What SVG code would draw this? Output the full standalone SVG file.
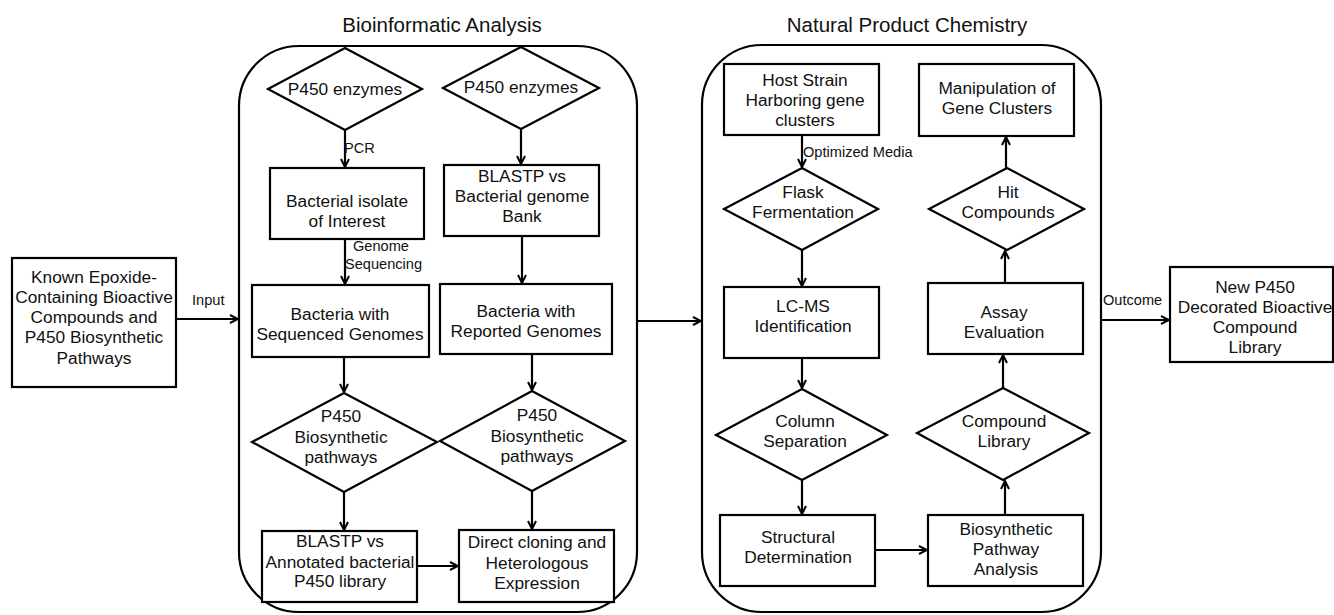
<svg xmlns="http://www.w3.org/2000/svg" width="1334" height="615" viewBox="0 0 1334 615">
<defs>
<marker id="ah" viewBox="0 0 10 10" refX="9" refY="5" markerWidth="10" markerHeight="10" markerUnits="userSpaceOnUse" orient="auto">
<path d="M1,1 L9,5 L1,9" fill="none" stroke="#000" stroke-width="2"/>
</marker>
<style>
.s{fill:#fff;stroke:#000;stroke-width:2.2}
.g{fill:none;stroke:#000;stroke-width:2.2}
.t{font-family:"Liberation Sans",Arial,sans-serif;font-size:17.3px;fill:#111;text-anchor:middle}
.l{font-family:"Liberation Sans",Arial,sans-serif;font-size:14.6px;fill:#111}
.h{font-family:"Liberation Sans",Arial,sans-serif;font-size:20.5px;fill:#111;text-anchor:middle}
.c{fill:none;stroke:#000;stroke-width:2.2;marker-end:url(#ah)}
</style>
</defs>
<rect width="1334" height="615" fill="#fff"/>

<g id="groups">
<rect x="239" y="46" width="398" height="566" rx="60" ry="60" class="g"/>
<text x="442" y="32" class="h">Bioinformatic Analysis</text>
<rect x="702" y="45" width="399" height="567" rx="60" ry="60" class="g"/>
<text x="907" y="32" class="h">Natural Product Chemistry</text>
</g>

<g id="connectors">
<line x1="176" y1="319" x2="238" y2="319" class="c"/>
<text x="192" y="305" class="l">Input</text>
<line x1="345" y1="130" x2="345" y2="167" class="c"/>
<text x="344" y="153" class="l">PCR</text>
<line x1="521" y1="129" x2="521" y2="164" class="c"/>
<line x1="345" y1="239" x2="345" y2="284" class="c"/>
<text x="353" y="251" class="l">Genome</text>
<text x="345" y="269" class="l">Sequencing</text>
<line x1="522" y1="236" x2="522" y2="283" class="c"/>
<line x1="344" y1="357" x2="344" y2="392" class="c"/>
<line x1="532" y1="354" x2="532" y2="390" class="c"/>
<line x1="344" y1="492" x2="344" y2="530" class="c"/>
<line x1="532" y1="491" x2="532" y2="529" class="c"/>
<line x1="417" y1="566" x2="458" y2="566" class="c"/>
<line x1="637" y1="321" x2="701" y2="321" class="c"/>
<line x1="802" y1="135" x2="802" y2="167" class="c"/>
<text x="803" y="157" class="l">Optimized Media</text>
<line x1="802" y1="250" x2="802" y2="286" class="c"/>
<line x1="802" y1="358" x2="802" y2="388" class="c"/>
<line x1="802" y1="480" x2="802" y2="514" class="c"/>
<line x1="875" y1="550" x2="927" y2="550" class="c"/>
<line x1="1005" y1="515" x2="1005" y2="481" class="c"/>
<line x1="1003" y1="388" x2="1003" y2="355" class="c"/>
<line x1="1005" y1="283" x2="1005" y2="251" class="c"/>
<line x1="1006" y1="168" x2="1006" y2="137" class="c"/>
<line x1="1101" y1="320" x2="1169" y2="320" class="c"/>
<text x="1103" y="305" class="l">Outcome</text>
</g>

<g id="n_known">
<rect x="12" y="258" width="164" height="129" class="s"/>
<text class="t" x="94" y="283">Known Epoxide-</text>
<text class="t" x="94" y="303">Containing Bioactive</text>
<text class="t" x="94" y="323">Compounds and</text>
<text class="t" x="94" y="343">P450 Biosynthetic</text>
<text class="t" x="94" y="364">Pathways</text>
</g>

<g id="n_p450a">
<polygon points="345,48 422,89 345,130 268,89" class="s"/>
<text class="t" x="345" y="95">P450 enzymes</text>
</g>
<g id="n_p450b">
<polygon points="521,47 599,88 521,129 443,88" class="s"/>
<text class="t" x="521" y="93">P450 enzymes</text>
</g>
<g id="n_isolate">
<rect x="270" y="168" width="154" height="71" class="s"/>
<text class="t" x="347" y="207">Bacterial isolate</text>
<text class="t" x="347" y="227">of Interest</text>
</g>
<g id="n_blastp1">
<rect x="444" y="165" width="155" height="71" class="s"/>
<text class="t" x="522" y="182">BLASTP vs</text>
<text class="t" x="522" y="202">Bacterial genome</text>
<text class="t" x="522" y="222">Bank</text>
</g>
<g id="n_seq">
<rect x="252" y="285" width="177" height="72" class="s"/>
<text class="t" x="340" y="320">Bacteria with</text>
<text class="t" x="340" y="340">Sequenced Genomes</text>
</g>
<g id="n_rep">
<rect x="440" y="284" width="172" height="70" class="s"/>
<text class="t" x="526" y="317">Bacteria with</text>
<text class="t" x="526" y="337">Reported Genomes</text>
</g>
<g id="n_pathA">
<polygon points="344,393 437,442 344,492 252,442" class="s"/>
<text class="t" x="341" y="422">P450</text>
<text class="t" x="341" y="443">Biosynthetic</text>
<text class="t" x="341" y="463">pathways</text>
</g>
<g id="n_pathB">
<polygon points="532,391 625,441 532,491 440,441" class="s"/>
<text class="t" x="537" y="421">P450</text>
<text class="t" x="537" y="442">Biosynthetic</text>
<text class="t" x="537" y="462">pathways</text>
</g>
<g id="n_blastp2">
<rect x="262" y="531" width="155" height="71" class="s"/>
<text class="t" x="340" y="547">BLASTP vs</text>
<text class="t" x="340" y="568">Annotated bacterial</text>
<text class="t" x="340" y="587">P450 library</text>
</g>
<g id="n_direct">
<rect x="459" y="530" width="155" height="72" class="s"/>
<text class="t" x="537" y="548">Direct cloning and</text>
<text class="t" x="537" y="569">Heterologous</text>
<text class="t" x="537" y="589">Expression</text>
</g>

<g id="n_host">
<rect x="724" y="64" width="155" height="71" class="s"/>
<text class="t" x="805" y="86">Host Strain</text>
<text class="t" x="805" y="106">Harboring gene</text>
<text class="t" x="805" y="126">clusters</text>
</g>
<g id="n_flask">
<polygon points="802,168 878,209 802,250 724,209" class="s"/>
<text class="t" x="803" y="198">Flask</text>
<text class="t" x="803" y="218">Fermentation</text>
</g>
<g id="n_lcms">
<rect x="724" y="287" width="155" height="71" class="s"/>
<text class="t" x="803" y="312">LC-MS</text>
<text class="t" x="803" y="332">Identification</text>
</g>
<g id="n_column">
<polygon points="802,389 887,435 802,480 716,435" class="s"/>
<text class="t" x="805" y="427">Column</text>
<text class="t" x="805" y="447">Separation</text>
</g>
<g id="n_struct">
<rect x="720" y="515" width="155" height="71" class="s"/>
<text class="t" x="798" y="543">Structural</text>
<text class="t" x="798" y="563">Determination</text>
</g>
<g id="n_bpa">
<rect x="928" y="515" width="155" height="71" class="s"/>
<text class="t" x="1006" y="535">Biosynthetic</text>
<text class="t" x="1006" y="555">Pathway</text>
<text class="t" x="1006" y="575">Analysis</text>
</g>
<g id="n_complib">
<polygon points="1003,388 1089,433 1003,480 917,433" class="s"/>
<text class="t" x="1004" y="427">Compound</text>
<text class="t" x="1004" y="447">Library</text>
</g>
<g id="n_assay">
<rect x="928" y="283" width="155" height="71" class="s"/>
<text class="t" x="1004" y="318">Assay</text>
<text class="t" x="1004" y="338">Evaluation</text>
</g>
<g id="n_hit">
<polygon points="1007,168 1084,209 1007,250 929,209" class="s"/>
<text class="t" x="1008" y="198">Hit</text>
<text class="t" x="1008" y="218">Compounds</text>
</g>
<g id="n_manip">
<rect x="919" y="64" width="155" height="72" class="s"/>
<text class="t" x="997" y="94">Manipulation of</text>
<text class="t" x="997" y="114">Gene Clusters</text>
</g>

<g id="n_new">
<rect x="1170" y="267" width="163" height="95" class="s"/>
<text class="t" x="1255" y="293">New P450</text>
<text class="t" x="1255" y="313">Decorated Bioactive</text>
<text class="t" x="1255" y="333">Compound</text>
<text class="t" x="1255" y="353">Library</text>
</g>
</svg>
